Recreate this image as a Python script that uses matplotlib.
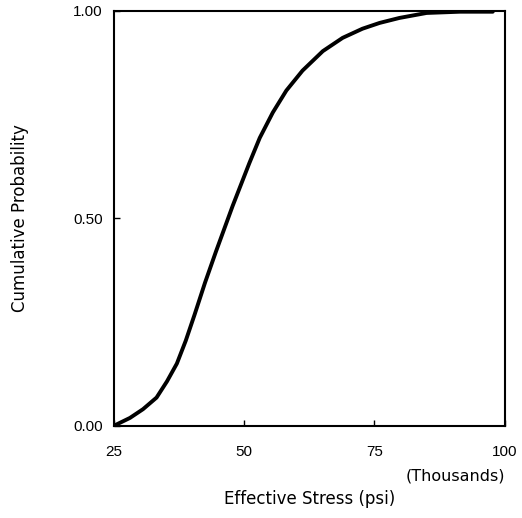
import numpy as np
import matplotlib.pyplot as plt

plt.rcParams['font.family'] = ['Liberation Sans', 'DejaVu Sans']

# curve (stress in thousands psi, cumulative probability)
stress = [25.0, 28.1, 30.6, 33.2, 35.2, 37.1, 38.8, 40.5, 42.5, 44.6, 47.8,
          51.0, 53.0, 55.5, 58.1, 61.2, 65.1, 68.9, 72.7, 76.0, 79.8,
          85.0, 91.4, 97.7]
prob = [0.0, 0.019, 0.040, 0.068, 0.107, 0.150, 0.205, 0.268, 0.345, 0.42, 0.53,
        0.633, 0.694, 0.755, 0.808, 0.856, 0.903, 0.935, 0.957, 0.971, 0.983,
        0.995, 0.998, 0.998]

x_ticks = [25, 50, 75, 100]
y_ticks = [0.0, 0.5, 1.0]
y_labels = ["0.00", "0.50", "1.00"]

fig = plt.figure(figsize=(5.22, 5.18), dpi=100)
ax = fig.add_axes([0.218, 0.178, 0.749, 0.801])

ax.plot(stress, prob, color='black', linewidth=2.8,
        solid_capstyle='round', solid_joinstyle='round')

ax.set_xlim(25, 100)
ax.set_ylim(0, 1)
ax.set_xticks(x_ticks)
ax.set_yticks(y_ticks)
ax.set_yticklabels(y_labels)
ax.tick_params(direction='in', length=4, width=1, labelsize=11, pad=8, colors='black')
ax.tick_params(axis='x', pad=14)
for s in ax.spines.values():
    s.set_linewidth(1.5)

ax.set_ylabel("Cumulative Probability", fontsize=12, family='DejaVu Sans', labelpad=32)
ax.text(1.0, -0.12, "(Thousands)", transform=ax.transAxes, ha='right', va='center',
        fontsize=11.5, family='DejaVu Sans')
ax.set_xlabel("Effective Stress (psi)", fontsize=12, family='DejaVu Sans', labelpad=22)

fig.savefig("out.png", dpi=100)
